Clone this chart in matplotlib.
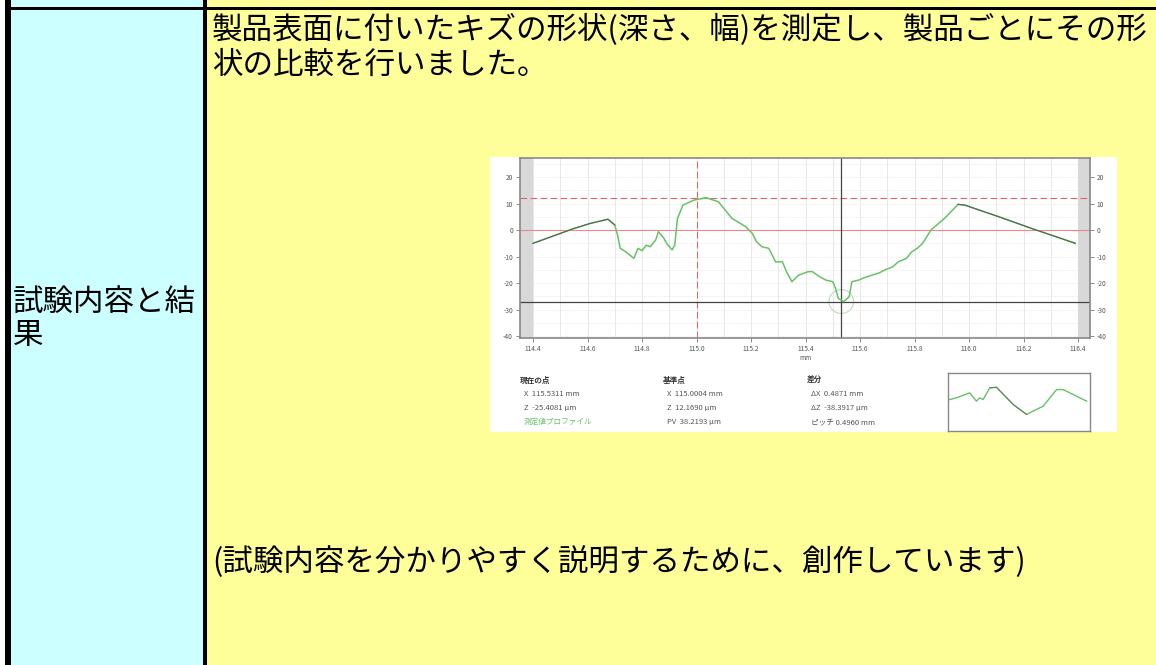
import numpy as np
import matplotlib.pyplot as plt
from matplotlib.patches import Rectangle, Ellipse

plt.rcParams['font.family'] = ['Noto Sans CJK JP', 'DejaVu Sans']

# --- table text ---
label_lines = ["試験内容と結", "果"]
body_lines = ["製品表面に付いたキズの形状(深さ、幅)を測定し、製品ごとにその形",
              "状の比較を行いました。"]
note_text = "(試験内容を分かりやすく説明するために、創作しています)"

# --- profile (x in mm, z in um) ---
prof_x = [114.40, 114.55, 114.61, 114.675, 114.70, 114.71, 114.72, 114.74, 114.77,
          114.785, 114.80, 114.815, 114.83, 114.85, 114.86, 114.88, 114.89, 114.91,
          114.92, 114.93, 114.95, 114.99, 115.035, 115.08, 115.13, 115.18, 115.205,
          115.22, 115.24, 115.265, 115.29, 115.315, 115.33, 115.35, 115.375, 115.41,
          115.425, 115.45, 115.475, 115.50, 115.51, 115.52, 115.54, 115.56, 115.57,
          115.595, 115.62, 115.645, 115.67, 115.69, 115.72, 115.74, 115.77, 115.79,
          115.81, 115.83, 115.86, 115.91, 115.96, 115.985, 116.11, 116.23, 116.39]
prof_z = [-5.0, 0.6, 2.5, 4.1, 1.9, -1.9, -6.9, -8.2, -10.7,
          -6.9, -7.8, -5.7, -6.3, -3.8, -0.6, -3.1, -5.0, -7.5,
          -5.7, 4.4, 9.4, 11.3, 12.2, 10.7, 4.4, 1.3, -1.3,
          -4.4, -6.3, -6.9, -12.0, -12.0, -15.7, -19.5, -17.0, -15.7,
          -15.7, -17.5, -18.9, -19.5, -22.0, -25.8, -27.0, -25.2, -19.5,
          -18.9, -17.8, -17.0, -16.2, -15.1, -13.9, -12.0, -10.7, -8.2,
          -6.9, -5.0, 0.0, 4.4, 9.7, 9.4, 5.0, 0.6, -5.0]

x_ticks = [114.4, 114.6, 114.8, 115.0, 115.2, 115.4, 115.6, 115.8, 116.0, 116.2, 116.4]
y_ticks = [20, 10, 0, -10, -20, -30, -40]

ref_x, ref_z = 115.0004, 12.1690
cur_x, cur_z = 115.5311, -27.0

info_cur = ["現在の点", "X  115.5311 mm", "Z  -25.4081 μm", "測定値プロファイル"]
info_ref = ["基準点", "X  115.0004 mm", "Z  12.1690 μm", "PV  38.2193 μm"]
info_dif = ["差分", "ΔX  0.4871 mm", "ΔZ  -38.3917 μm", "ピッチ 0.4960 mm"]

# small overview curve in the inset box
inset_x = [510, 530, 570, 590, 600, 610, 630, 650, 700, 740, 790, 830, 850, 920]
inset_y = [95, 100, 115, 90, 100, 95, 130, 132, 80, 50, 75, 125, 125, 90]

W, H = 1156, 665
fig = plt.figure(figsize=(W / 100, H / 100), dpi=100)
bg = fig.add_axes([0, 0, 1, 1])
bg.set_xlim(0, W)
bg.set_ylim(H, 0)
bg.axis('off')

bg.add_patch(Rectangle((11, 0), 192, H, color='#CCFFFF', lw=0))
bg.add_patch(Rectangle((207, 0), W - 207, H, color='#FFFF99', lw=0))
bg.add_patch(Rectangle((5, 0), 6, H, color='black', lw=0))
bg.add_patch(Rectangle((203, 0), 4, H, color='black', lw=0))
bg.add_patch(Rectangle((5, 7), W - 5, 3, color='black', lw=0))
bg.add_patch(Rectangle((490, 157), 627, 275, color='white', lw=0))

fs = 22
for i, s in enumerate(label_lines):
    bg.text(13, 302 + i * 33, s, fontsize=fs, va='center', ha='left')
for i, s in enumerate(body_lines):
    bg.text(212, 30 + i * 35, s, fontsize=fs, va='center', ha='left')
bg.text(212, 562, note_text, fontsize=fs, va='center', ha='left')

# --- profile chart ---
def fig_rect(x0, y0, x1, y1):
    return [x0 / W, 1 - y1 / H, (x1 - x0) / W, (y1 - y0) / H]

ax = fig.add_axes(fig_rect(520, 158, 1090, 338))
ax.set_xlim(114.352, 116.444)
ax.set_ylim(-40.75, 27.2)
ax.axvspan(114.352, 114.4, color='#d8d8d8', lw=0)
ax.axvspan(116.4, 116.444, color='#d8d8d8', lw=0)
for gx in np.arange(114.4, 116.41, 0.1):
    ax.axvline(gx, color='#e4e4e4', lw=0.6, zorder=0)
for gy in np.arange(-40, 27, 5):
    ax.axhline(gy, color='#eadede', lw=0.6, ls=':', zorder=0)

ax.axhline(0, color='#ee8888', lw=0.8)
ax.axhline(ref_z, color='#dd6666', lw=0.8, ls=(0, (6, 3)))
ax.axvline(ref_x, color='#dd6666', lw=0.8, ls=(0, (6, 3)))
ax.axhline(cur_z, color='#444444', lw=0.9)
ax.axvline(cur_x, color='#444444', lw=0.9)

ax.plot(prof_x, prof_z, color='#66c266', lw=1.1)
ax.plot(prof_x[:5], prof_z[:5], color='#556655', lw=0.8)
ax.plot(prof_x[-5:], prof_z[-5:], color='#556655', lw=0.8)
ax.add_patch(Ellipse((cur_x, cur_z), 0.09, 9, fill=False, ec='#bbddbb', lw=0.8))

ax.set_xticks(x_ticks)
ax.set_xticklabels(["%.1f" % v for v in x_ticks], fontsize=4.8, color='#555555')
ax.set_yticks(y_ticks)
ax.set_yticklabels([str(v) for v in y_ticks], fontsize=4.8, color='#555555')
ax.tick_params(length=3, width=0.6, color='#777777', pad=2,
               right=True, labelright=True)
ax.set_xlabel("mm", fontsize=4.8, color='#555555', labelpad=1)
for sp in ax.spines.values():
    sp.set_color('#888888')
    sp.set_linewidth(1.2)

# info text under the chart
cols = [(520, info_cur), (663, info_ref), (807, info_dif)]
for cx, lines in cols:
    for i, s in enumerate(lines):
        kw = dict(fontsize=5.5, va='center', ha='left', color='#555555')
        if i == 0:
            kw.update(fontweight='bold', color='#333333')
            bg.text(cx, 380, s, **kw)
        else:
            if s == "測定値プロファイル":
                kw['color'] = '#66c266'
            bg.text(cx + 4, 380 + i * 14, s, **kw)

ins = fig.add_axes(fig_rect(948, 373, 1090, 431))
ins.set_xlim(505, 930)
ins.set_ylim(0, 175)
ins.plot(inset_x, inset_y, color='#66c266', lw=1.0)
ins.plot(inset_x[6:10], inset_y[6:10], color='#667766', lw=0.7)
ins.set_xticks([])
ins.set_yticks([])
for sp in ins.spines.values():
    sp.set_color('#888888')
    sp.set_linewidth(1.0)

fig.savefig("out.png", dpi=100)
